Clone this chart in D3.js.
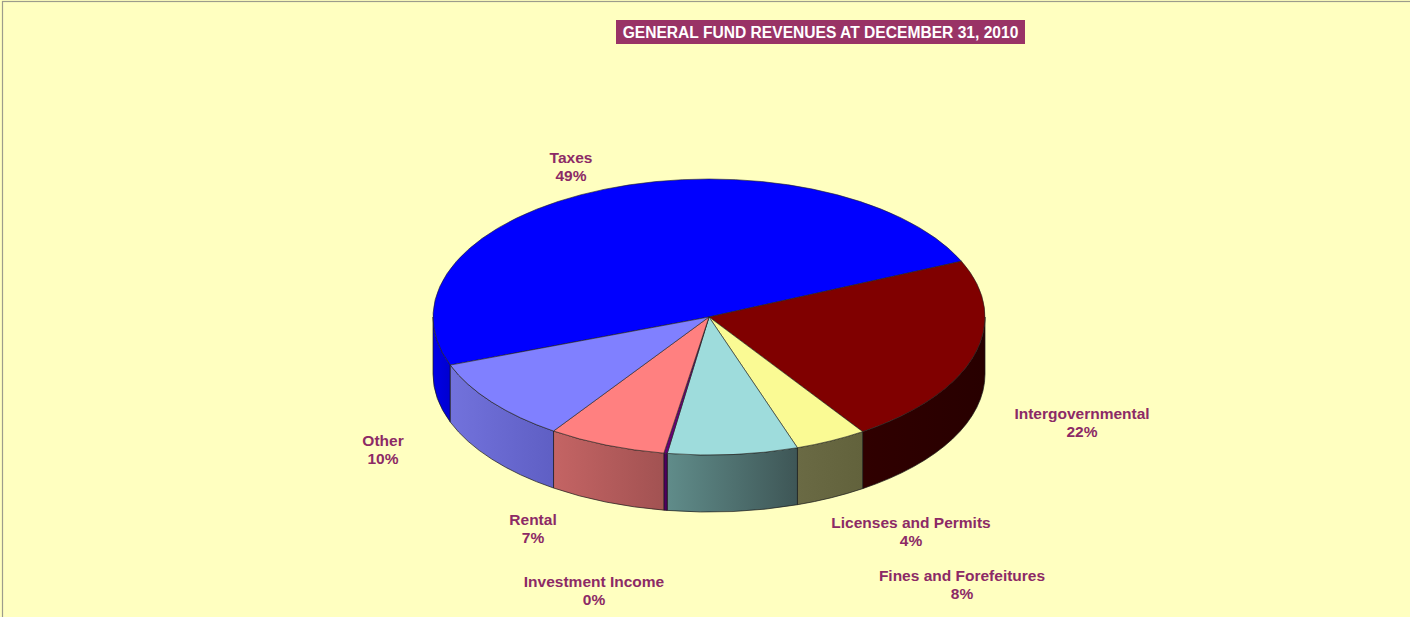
<!DOCTYPE html>
<html>
<head>
<meta charset="utf-8">
<script src="https://cdn.jsdelivr.net/npm/d3@7"></script>
<style>
  html, body { margin: 0; padding: 0; background: #ffffc0; overflow: hidden; }
  svg { display: block; }
  text { font-family: Arial, "Liberation Sans", sans-serif; font-weight: bold; }
</style>
</head>
<body>
<svg id="chart" width="1410" height="617"></svg>
<script>
// data (percent of general fund revenues)
var categories = ["Taxes", "Intergovernmental", "Licenses and Permits", "Fines and Forefeitures", "Investment Income", "Rental", "Other"];
var values = [49.0, 22.2, 4.2, 7.6, 0.2, 6.9, 9.8];
var percentLabels = ["49%", "22%", "4%", "8%", "0%", "7%", "10%"];

// colours: top face, side light, side dark
var topColors  = ["#0000ff", "#800000", "#fafa94", "#9edcdc", "#660077", "#ff8080", "#8080ff"];
var sideLight  = ["#0000e6", "#300000", "#6a6a44", "#608c8a", "#550066", "#c46464", "#7272dc"];
var sideDark   = ["#0000d0", "#280000", "#62623c", "#3e5656", "#4a005a", "#a25252", "#5f5fc4"];

// label positions relative to pie centre (Excel style manual placement)
var labelOffsets = [[-138, -154], [373, 102], [202, 211], [253, 264], [-115, 270], [-176, 208], [-326, 129]];

var W = 1410, H = 617;
var cx = 709, cy = 317, rx = 276, ry = 138, depth = 57;
var labelColor = "#8c2a66";

var svg = d3.select("#chart");

// frame
svg.append("rect").attr("x", 0).attr("y", 0).attr("width", W).attr("height", H).attr("fill", "#ffffc0");
svg.append("rect").attr("x", 2.5).attr("y", 1.5).attr("width", W + 20).attr("height", H + 20)
   .attr("fill", "none").attr("stroke", "#9c9c8c").attr("stroke-width", 1.2);

// title
var title = "GENERAL FUND REVENUES AT DECEMBER 31, 2010";
var tg = svg.append("g");
tg.append("rect").attr("x", 616).attr("y", 20).attr("width", 409).attr("height", 24).attr("fill", "#993366");
tg.append("text").attr("x", 820.5).attr("y", 37.5).attr("text-anchor", "middle")
   .attr("fill", "#ffffff").attr("font-size", 15.6).text(title);

var pie = d3.pie().sort(null).value(function(d) { return d; })
   .startAngle(-110.4 * Math.PI / 180).endAngle(-110.4 * Math.PI / 180 + 2 * Math.PI);
var arcs = pie(values);

function pt(a, dy) {
  return [cx + rx * Math.sin(a), cy - ry * Math.cos(a) + (dy || 0)];
}

var defs = svg.append("defs");
var walls = svg.append("g");
var tops = svg.append("g");

arcs.forEach(function(d, i) {
  var a0 = d.startAngle, a1 = d.endAngle;
  // front half: pi/2 .. 3pi/2 (+2k pi)
  for (var k = -1; k <= 1; k++) {
    var f0 = Math.PI / 2 + 2 * Math.PI * k, f1 = 3 * Math.PI / 2 + 2 * Math.PI * k;
    var b0 = Math.max(a0, f0), b1 = Math.min(a1, f1);
    if (b1 <= b0) continue;
    var p0 = pt(b0), p1 = pt(b1), q0 = pt(b0, depth), q1 = pt(b1, depth);
    var gid = "side" + i + "_" + (k + 1);
    var g = defs.append("linearGradient").attr("id", gid).attr("gradientUnits", "userSpaceOnUse")
      .attr("x1", p1[0]).attr("y1", 0).attr("x2", p0[0]).attr("y2", 0);
    g.append("stop").attr("offset", 0).attr("stop-color", sideLight[i]);
    g.append("stop").attr("offset", 1).attr("stop-color", sideDark[i]);
    var large = (b1 - b0) > Math.PI ? 1 : 0;
    var path = "M" + p0 + " A" + rx + "," + ry + " 0 " + large + " 1 " + p1 +
      " L" + q1 + " A" + rx + "," + ry + " 0 " + large + " 0 " + q0 + " Z";
    walls.append("path").attr("d", path).attr("fill", "url(#" + gid + ")")
      .attr("stroke", "#1a1a1a").attr("stroke-width", 0.7).attr("stroke-linejoin", "round");
  }
  var s = pt(a0), e = pt(a1);
  var lg = (a1 - a0) > Math.PI ? 1 : 0;
  tops.append("path")
    .attr("d", "M" + cx + "," + cy + " L" + s + " A" + rx + "," + ry + " 0 " + lg + " 1 " + e + " Z")
    .attr("fill", topColors[i]).attr("stroke", "#222").attr("stroke-width", 0.6).attr("stroke-linejoin", "round");
});

// labels
var lab = svg.append("g").attr("fill", labelColor).attr("font-size", 15.5).attr("text-anchor", "middle");
categories.forEach(function(c, i) {
  var x = cx + labelOffsets[i][0], y = cy + labelOffsets[i][1];
  var t = lab.append("text").attr("x", x).attr("y", y);
  t.append("tspan").attr("x", x).attr("dy", 0).text(c);
  t.append("tspan").attr("x", x).attr("dy", 18).text(percentLabels[i]);
});
</script>
</body>
</html>
